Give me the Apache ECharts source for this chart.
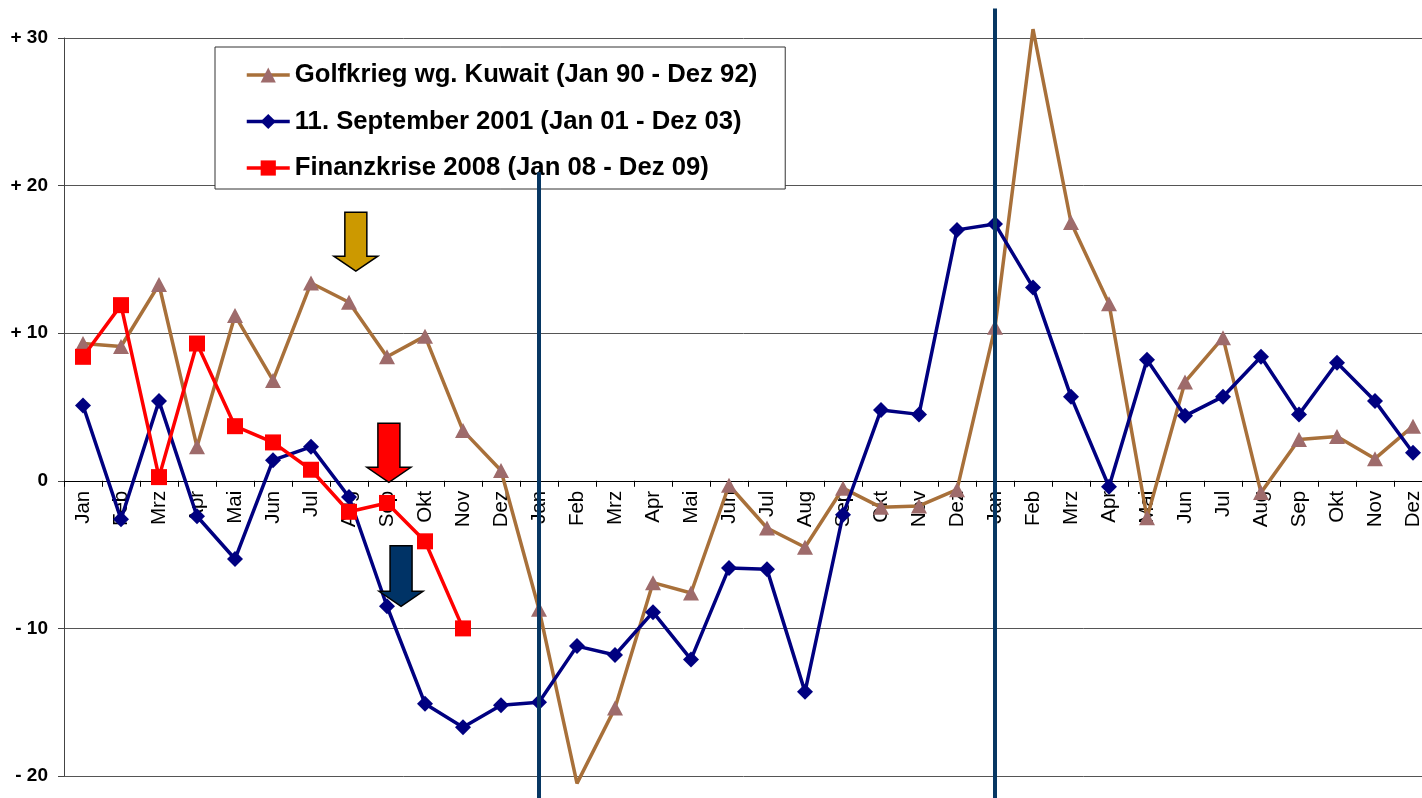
<!DOCTYPE html>
<html>
<head>
<meta charset="utf-8">
<script src="https://cdn.jsdelivr.net/npm/echarts@6/dist/echarts.min.js"></script>
<style>
html,body{margin:0;padding:0;background:#fff;}
#chart{width:1422px;height:798px;}
</style>
</head>
<body>
<div id="chart"></div>
<script>
const categories = [
  'Jan','Feb','Mrz','Apr','Mai','Jun','Jul','Aug','Sep','Okt','Nov','Dez',
  'Jan','Feb','Mrz','Apr','Mai','Jun','Jul','Aug','Sep','Okt','Nov','Dez',
  'Jan','Feb','Mrz','Apr','Mai','Jun','Jul','Aug','Sep','Okt','Nov','Dez'
];
const seriesNames = [
  'Golfkrieg wg. Kuwait (Jan 90 - Dez 92)',
  '11. September 2001 (Jan 01 - Dez 03)',
  'Finanzkrise 2008 (Jan 08 - Dez 09)'
];
const golfkrieg = [
  9.3, 9.1, 13.3, 2.3, 11.2, 6.8, 13.4, 12.1, 8.4, 9.8, 3.4, 0.7,
  -8.7, -20.5, -15.4, -6.9, -7.6, -0.3, -3.2, -4.5, -0.5, -1.8, -1.7, -0.6,
  10.4, 30.6, 17.5, 12.0, -2.5, 6.7, 9.7, -0.8, 2.8, 3.0, 1.5, 3.7
];
const september = [
  5.1, -2.6, 5.4, -2.4, -5.3, 1.4, 2.3, -1.1, -8.5, -15.1, -16.7, -15.2,
  -15.0, -11.2, -11.8, -8.9, -12.1, -5.9, -6.0, -14.3, -2.3, 4.8, 4.5, 17.0,
  17.4, 13.1, 5.7, -0.4, 8.2, 4.4, 5.7, 8.4, 4.5, 8.0, 5.4, 1.9
];
const finanzkrise = [8.4, 11.9, 0.25, 9.3, 3.7, 2.6, 0.75, -2.1, -1.5, -4.1, -10.0];
const yTicks = [-20, -10, 0, 10, 20, 30];

// annotations (in data units)
const dividers = [{index: 12, top: 20.9}, {index: 24, top: 32.0}];
const dividerBottom = -21.6;
const arrows = [
  {at: 7.18, from: 18.2, to: 14.2, color: '#CC9900'},
  {at: 8.05, from: 3.9, to: -0.1, color: '#FF0000'},
  {at: 8.37, from: -4.4, to: -8.5, color: '#003366'}
];

const yMin = yTicks[0], yMax = yTicks[yTicks.length - 1];
const FONT = '"Liberation Sans", Arial, sans-serif';

function hideOutside(arr) {
  return arr.map(v => (v < yMin || v > yMax) ? {value: v, symbol: 'none'} : v);
}

const chart = echarts.init(document.getElementById('chart'), null, {renderer: 'canvas'});
chart.setOption({
  animation: false,
  backgroundColor: '#fff',
  grid: {left: 64, top: 38, width: 1368, height: 738, containLabel: false, outerBoundsMode: 'none'},
  legend: {
    orient: 'vertical',
    left: 215, top: 47,
    padding: [14, 28, 7, 30],
    itemGap: 18.5,
    itemWidth: 43, itemHeight: 19,
    itemStyle: {borderWidth: 0},
    lineStyle: {width: 3.5},
    backgroundColor: '#fff',
    borderColor: '#333', borderWidth: 1,
    textStyle: {fontFamily: FONT, fontSize: 25.7, fontWeight: 'bold', color: '#000', lineHeight: 28},
    data: seriesNames
  },
  xAxis: {
    type: 'category',
    data: categories,
    boundaryGap: true,
    axisLine: {onZero: true, lineStyle: {color: '#000', width: 1}},
    axisTick: {show: true, length: 6, lineStyle: {color: '#000'}},
    axisLabel: {show: false},
    splitLine: {show: false}
  },
  yAxis: {
    type: 'value',
    min: yMin, max: yMax, interval: 10,
    axisLine: {show: true, lineStyle: {color: '#444', width: 1}},
    axisTick: {show: true, length: 6, lineStyle: {color: '#444'}},
    axisLabel: {
      margin: 16, fontFamily: FONT, fontSize: 19, fontWeight: 'bold', color: '#000',
      formatter: v => v > 0 ? '+ ' + v : (v < 0 ? '- ' + Math.abs(v) : '0')
    },
    splitLine: {show: true, lineStyle: {color: '#555', width: 1}}
  },
  series: [
    {
      name: 'labels', type: 'custom', silent: true, z: 1, clip: false,
      data: categories.map((c, i) => [i, 0]),
      renderItem: function (params, api) {
        const p = api.coord([api.value(0), api.value(1)]);
        return {
          type: 'text', x: p[0], y: p[1] + 10, rotation: Math.PI / 2,
          style: {
            text: categories[params.dataIndex], align: 'right', verticalAlign: 'middle',
            fontFamily: FONT, fontSize: 20.5, fill: '#000'
          }
        };
      }
    },
    {
      name: seriesNames[0], type: 'line', data: hideOutside(golfkrieg),
      clip: false, z: 2,
      symbol: 'triangle', symbolSize: [16, 15],
      lineStyle: {color: '#A8703A', width: 3.5},
      itemStyle: {color: '#9E6B6B'}
    },
    {
      name: seriesNames[1], type: 'line', data: hideOutside(september),
      clip: false, z: 3,
      symbol: 'diamond', symbolSize: [16, 16],
      lineStyle: {color: '#000080', width: 3.5},
      itemStyle: {color: '#000080'}
    },
    {
      name: seriesNames[2], type: 'line', data: finanzkrise,
      clip: false, z: 4,
      symbol: 'rect', symbolSize: [16, 16],
      lineStyle: {color: '#FF0000', width: 3.5},
      itemStyle: {color: '#FF0000'}
    }
  ]
});

function px(i, v) {
  const i0 = Math.floor(i), f = i - i0;
  const a = chart.convertToPixel({gridIndex: 0}, [i0, v]);
  if (f === 0) return a;
  const b = chart.convertToPixel({gridIndex: 0}, [i0 + 1, v]);
  return [a[0] + (b[0] - a[0]) * f, a[1]];
}

const graphics = [];
dividers.forEach(d => {
  const p1 = px(d.index, d.top), p2 = px(d.index, dividerBottom);
  graphics.push({
    type: 'line', z: 100,
    shape: {x1: p1[0], y1: p1[1], x2: p2[0], y2: p2[1]},
    style: {stroke: '#073763', lineWidth: 4}
  });
});
arrows.forEach(a => {
  const t = px(a.at, a.from), b = px(a.at, a.to);
  const cx = t[0], top = t[1], tip = b[1];
  const sw = 11, hw = 22, hh = 15;
  graphics.push({
    type: 'polygon', z: 100,
    shape: {points: [
      [cx - sw, top], [cx + sw, top], [cx + sw, tip - hh], [cx + hw, tip - hh],
      [cx, tip], [cx - hw, tip - hh], [cx - sw, tip - hh]
    ]},
    style: {fill: a.color, stroke: '#000', lineWidth: 1.5}
  });
});
chart.setOption({graphic: graphics});
</script>
</body>
</html>
